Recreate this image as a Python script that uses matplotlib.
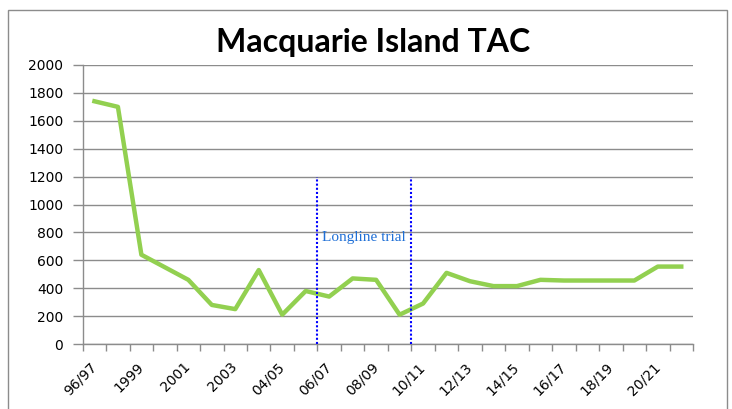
import matplotlib
matplotlib.use("Agg")
import matplotlib.pyplot as plt
from matplotlib.patches import Rectangle

categories = ["96/97", "97/98", "1999", "2000", "2001", "2002", "2003", "03/04",
              "04/05", "05/06", "06/07", "07/08", "08/09", "09/10", "10/11", "11/12",
              "12/13", "13/14", "14/15", "15/16", "16/17", "17/18", "18/19", "19/20",
              "20/21", "21/22"]
tac = [1740, 1700, 640, 550, 460, 280, 250, 530, 210, 380, 340, 470, 460, 210,
       290, 510, 450, 415, 415, 460, 455, 455, 455, 455, 555, 555]
trial_start = 9.5
trial_end = 13.5
trial_top = 1200
trial_label = "Longline trial"
title = "Macquarie Island TAC"
yticks = list(range(0, 2001, 200))

fig = plt.figure(figsize=(7.32, 4.09), dpi=100)
fig.patches.append(Rectangle((8/732, -0.1), (727-8)/732, 1 - 10/409 + 0.1,
                             transform=fig.transFigure, fill=False,
                             edgecolor="#8c8c8c", linewidth=1))
ax = fig.add_axes([82.7/732, 1 - 344/409, (693 - 82.7)/732, (344 - 65)/409])

x = list(range(len(categories)))
ax.plot(x, tac, color="#92D050", linewidth=3.2, solid_joinstyle="round", zorder=3)

ax.set_xlim(-0.5, len(categories) - 0.5)
ax.set_ylim(0, 2000)
ax.set_yticks(yticks)
ax.set_yticklabels([str(v) for v in yticks], fontsize=10, family="DejaVu Sans")
ax.grid(axis="y", color="#8c8c8c", linewidth=1)
ax.set_axisbelow(True)

ax.set_xticks([i - 0.5 for i in range(len(categories) + 1)], minor=False)
ax.set_xticklabels([])
ax.set_xticks(x[::2], minor=True)
ax.set_xticklabels(categories[::2], minor=True, rotation=45, ha="right",
                   va="center", rotation_mode="anchor", fontsize=10,
                   family="DejaVu Sans")
ax.tick_params(axis="x", which="major", length=5, color="#8c8c8c", width=1)
ax.tick_params(axis="x", which="minor", length=0, pad=15)
ax.tick_params(axis="y", length=7, color="#8c8c8c", width=1, pad=7)

for s in ["top", "right"]:
    ax.spines[s].set_visible(False)
for s in ["left", "bottom"]:
    ax.spines[s].set_color("#8c8c8c")
    ax.spines[s].set_linewidth(1)

for xv in (trial_start, trial_end):
    ax.plot([xv, xv], [0, trial_top], color="#0000ff", linestyle=(0, (1, 1)),
            linewidth=1.5, zorder=4)
ax.text(trial_start + 0.18, 740, trial_label, color="#1f6fd6", fontsize=11,
        family="Liberation Serif", va="baseline", ha="left", zorder=5)

fig.text(373.5/732, 1 - 52/409, title, fontsize=23, fontweight="bold",
         family="Lato", ha="center", va="baseline")

fig.savefig("out.png", dpi=100)
